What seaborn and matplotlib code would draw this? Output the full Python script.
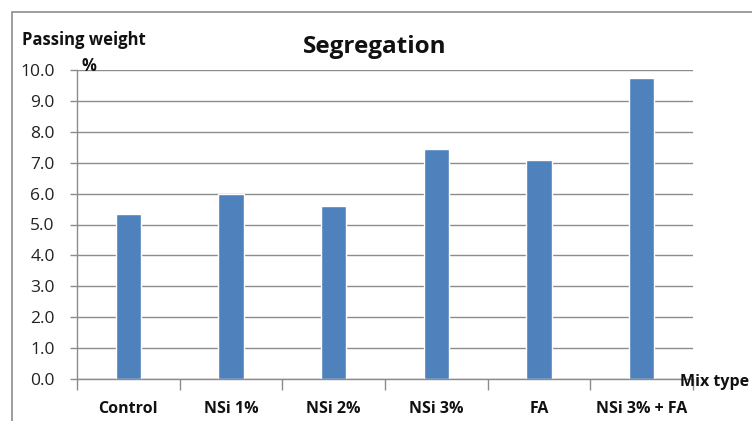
import matplotlib
matplotlib.use("Agg")
import matplotlib.pyplot as plt
import seaborn as sns
import pandas as pd
from matplotlib.patches import Rectangle

mix_types = ["Control", "NSi 1%", "NSi 2%", "NSi 3%", "FA", "NSi 3% + FA"]
passing_weight = [5.33, 6.0, 5.6, 7.45, 7.08, 9.73]
y_ticks = [0.0, 1.0, 2.0, 3.0, 4.0, 5.0, 6.0, 7.0, 8.0, 9.0, 10.0]

df = pd.DataFrame({"Mix type": mix_types, "Passing weight": passing_weight})

sns.set_theme(style="white")
plt.rcParams['font.family'] = ['Open Sans', 'DejaVu Sans']

W, H = 752, 421
fig = plt.figure(figsize=(W / 100, H / 100), dpi=100)
ax = fig.add_axes([77 / W, 1 - 379 / H, (693 - 77) / W, (379 - 70) / H])

sns.barplot(data=df, x="Mix type", y="Passing weight", color="#4F81BD",
            width=0.245, saturation=1, ax=ax)

ax.set_ylim(0, 10)
ax.set_xlim(-0.5, 5.5)
ax.set_yticks(y_ticks)
ax.set_yticklabels([f"{v:.1f}" for v in y_ticks], fontsize=12.5, color="#222222")
ax.yaxis.grid(True, color="#8c8c8c", linewidth=1.0)
ax.set_axisbelow(True)
ax.tick_params(axis="y", length=5, width=1, color="#8c8c8c", left=True, pad=11)

ax.set_xticks(range(len(mix_types)))
ax.set_xticklabels(mix_types, fontsize=11.5, fontweight="bold", color="#111111")
ax.tick_params(axis="x", length=0, pad=16)
ax.set_xticks([i - 0.5 for i in range(len(mix_types) + 1)], minor=True)
ax.tick_params(axis="x", which="minor", length=8, width=1, color="#8c8c8c", bottom=True)

for s in ["top", "right"]:
    ax.spines[s].set_visible(False)
for s in ["left", "bottom"]:
    ax.spines[s].set_color("#8c8c8c")
    ax.spines[s].set_linewidth(1.0)

ax.set_xlabel("")
ax.set_ylabel("")

fig.text(375 / W, 1 - 47 / H, "Segregation", fontsize=17.5, fontweight="bold",
         ha="center", va="center", color="#111111")
fig.text(22 / W, 1 - 40 / H, "Passing weight", fontsize=12, fontweight="bold",
         ha="left", va="center", color="#111111")
fig.text(81 / W, 1 - 66 / H, "%", fontsize=12, fontweight="bold",
         ha="left", va="center", color="#111111")
fig.text(749 / W, 1 - 382 / H, "Mix type", fontsize=11.5, fontweight="bold",
         ha="right", va="center", color="#111111")

fig.patches.append(Rectangle((12 / W, -0.1), 1.2, 1 - 12 / H + 0.1,
                             transform=fig.transFigure, fill=False,
                             edgecolor="#8c8c8c", linewidth=1.2))

fig.savefig("out.png", dpi=100)
